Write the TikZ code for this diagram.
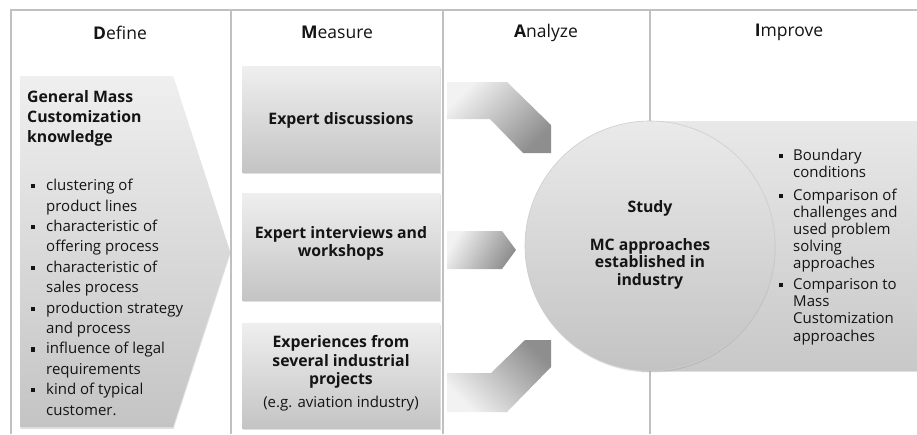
\documentclass[tikz,border=0pt]{standalone}
\usepackage{fontspec}
\setmainfont{Open Sans}
\usetikzlibrary{shadows}
\definecolor{frameline}{HTML}{C0C0C0}
\definecolor{boxtop}{HTML}{EFEFEF}
\definecolor{boxbot}{HTML}{C4C4C4}
\definecolor{arrlight}{HTML}{F2F2F2}
\definecolor{arrdark}{HTML}{8E8E8E}
\definecolor{circtop}{HTML}{EAEAEA}
\definecolor{circbot}{HTML}{C3C3C3}
\definecolor{circline}{HTML}{CDCDCD}
\definecolor{imptop}{HTML}{E8E8E8}
\definecolor{impbot}{HTML}{C8C8C8}
\definecolor{txt}{HTML}{141414}
\newcommand\sqb{\makebox[15pt][l]{\rule[2.2pt]{4.2pt}{4.2pt}}}
\newcommand\ind{\hspace*{15pt}}
\newcommand\sqbi{\makebox[14pt][l]{\rule[2.2pt]{4.2pt}{4.2pt}}}
\newcommand\indi{\hspace*{14pt}}
\begin{document}
\begin{tikzpicture}[x=1pt,y=-1pt,
  every node/.style={text=txt, inner sep=0pt},
  frame/.style={draw=frameline, line width=1.8pt},
  header/.style={font=\fontsize{17.5}{20}\selectfont},
  graybox/.style={top color=boxtop, bottom color=boxbot,
     drop shadow={shadow xshift=0.5pt, shadow yshift=-1.8pt, opacity=0.25}},
  arrowshape/.style={top color=arrlight, bottom color=arrdark},
  boldtext/.style={font=\bfseries\fontsize{15.8}{18.5}\selectfont, align=center},
  bodytext/.style={font=\fontsize{15}{20.4}\selectfont, align=left},
  imptext/.style={font=\fontsize{15}{17.2}\selectfont, align=left}
]
\useasboundingbox (0,0) rectangle (917,434);
\fill[white] (0,0) rectangle (917,434);

% frame
\draw[frame] (11,434) -- (11,10) -- (917,10);
\draw[frame] (231,10) -- (231,434);
\draw[frame] (443,10) -- (443,434);
\draw[frame] (650,10) -- (650,434);

% headers
\node[header] (hD) at (120,32.5) {\textbf{D}efine};
\node[header] (hM) at (337,32.5) {\textbf{M}easure};
\node[header] (hA) at (546,32.5) {\textbf{A}nalyze};
\node[header] (hI) at (789,32.5) {\textbf{I}mprove};

% Define chevron
\path[graybox] (20,76) -- (173,76) -- (230,251.5) -- (173,427) -- (20,427) -- cycle;
\node[anchor=north west, font=\bfseries\fontsize{15.8}{20}\selectfont, align=left] (defhead) at (27,90.5)
  {General Mass\\Customization\\knowledge};
\node[anchor=north west, bodytext] (deflist) at (31,179)
  {\sqb clustering of\\ \ind product lines\\
   \sqb characteristic of\\ \ind offering process\\
   \sqb characteristic of\\ \ind sales process\\
   \sqb production strategy\\ \ind and process\\
   \sqb influence of legal\\ \ind requirements\\
   \sqb kind of typical\\ \ind customer.};

% Measure boxes
\path[graybox] (242,66) rectangle (440,172);
\path[graybox] (242,193) rectangle (440,300);
\path[graybox] (242,323) rectangle (440,428);
\node[boldtext] (m1) at (341,120) {Expert discussions};
\node[boldtext] (m2) at (341,243.5) {Expert interviews and\\workshops};
\node[boldtext, anchor=north] (m3) at (341,335.5)
  {Experiences from\\several industrial\\projects\\[4pt]{\mdseries\fontsize{15}{18}\selectfont (e.g. aviation industry)}};

% Analyze arrows
\shade[arrowshape, shading angle=45]
  (447,82) -- (507,82) -- (551,125) -- (551,153) -- (523,153) -- (490,119) -- (447,119) -- cycle;
\shade[arrowshape, shading angle=60]
  (447,231) -- (502,231) -- (516,250) -- (502,269) -- (447,269) -- cycle;
\shade[top color=arrdark, bottom color=arrlight, shading angle=-45]
  (447,373) -- (491,373) -- (525,340) -- (551,340) -- (551,367) -- (507,412) -- (447,412) -- cycle;

% Improve box and study circle
\path[top color=imptop, bottom color=impbot,
  drop shadow={shadow xshift=0.5pt, shadow yshift=-1.8pt, opacity=0.25}]
  (640,121) rectangle (930,370);
\path[top color=circtop, bottom color=circbot, draw=circline, line width=0.6pt,
  drop shadow={shadow xshift=0.5pt, shadow yshift=-1.5pt, opacity=0.2}]
  (650,246) circle[radius=125];
\node[font=\bfseries\fontsize{15.8}{17.8}\selectfont, align=center, anchor=north] (study) at (650,200)
  {Study\\[20pt]MC approaches\\established in\\industry};
\node[anchor=north west, imptext] (implist) at (779,148.5)
  {\sqbi Boundary\\ \indi conditions\\[5.5pt]
   \sqbi Comparison of\\ \indi challenges and\\ \indi used problem\\ \indi solving\\ \indi approaches\\[3.5pt]
   \sqbi Comparison to\\ \indi Mass\\ \indi Customization\\ \indi approaches};
\end{tikzpicture}
\end{document}
